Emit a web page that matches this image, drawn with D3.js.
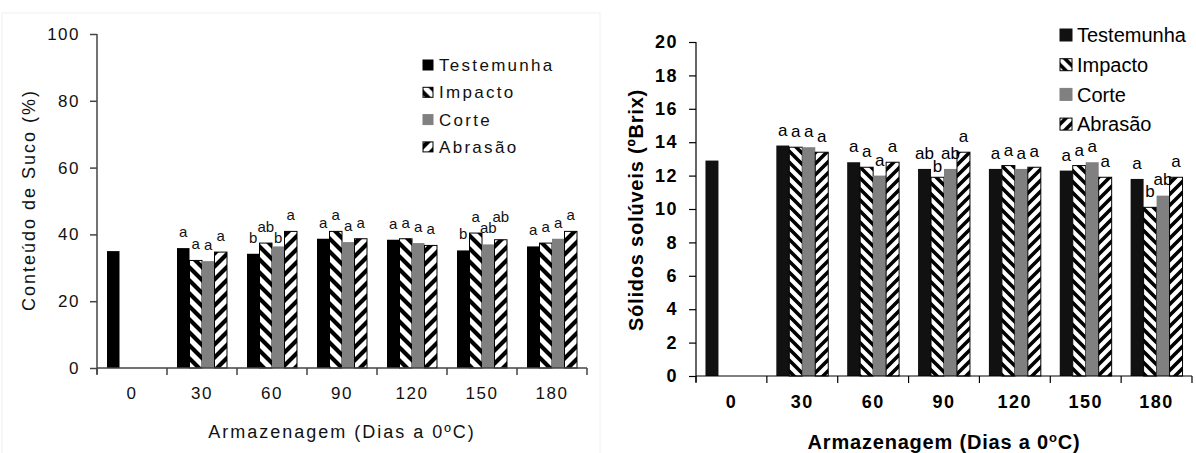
<!DOCTYPE html>
<html>
<head>
<meta charset="utf-8">
<script src="https://cdn.jsdelivr.net/npm/d3@7"></script>
<style>
  body { margin: 0; background: #fff; }
  svg { display: block; }
</style>
</head>
<body>
<script>
//Data
const days = ['0', '30', '60', '90', '120', '150', '180'];
const treatments = ['Testemunha', 'Impacto', 'Corte', 'Abrasão'];

// Conteúdo de suco (%)
const sucoTestemunha = [35.0, 35.9, 34.2, 38.7, 38.4, 35.2, 36.4];
const sucoImpacto    = [null, 32.2, 37.4, 40.9, 38.7, 40.4, 37.4];
const sucoCorte      = [null, 32.0, 36.4, 37.7, 37.4, 37.0, 38.7];
const sucoAbrasao    = [null, 34.7, 40.9, 38.7, 36.7, 38.4, 40.9];
const sucoLetrasT = ['', 'a', 'b', 'a', 'a', 'b', 'a'];
const sucoLetrasI = ['', 'a', 'ab', 'a', 'a', 'a', 'a'];
const sucoLetrasC = ['', 'a', 'b', 'a', 'a', 'ab', 'a'];
const sucoLetrasA = ['', 'a', 'a', 'a', 'a', 'ab', 'a'];
const sucoTicks = [0, 20, 40, 60, 80, 100];

// Sólidos solúveis (ºBrix)
const brixTestemunha = [12.9, 13.8, 12.8, 12.4, 12.4, 12.3, 11.8];
const brixImpacto    = [null, 13.7, 12.5, 11.9, 12.6, 12.6, 10.1];
const brixCorte      = [null, 13.7, 12.0, 12.4, 12.4, 12.8, 10.8];
const brixAbrasao    = [null, 13.4, 12.8, 13.4, 12.5, 11.9, 11.9];
const brixLetrasT = ['', 'a', 'a', 'ab', 'a', 'a', 'a'];
const brixLetrasI = ['', 'a', 'a', 'b', 'a', 'a', 'b'];
const brixLetrasC = ['', 'a', 'a', 'ab', 'a', 'a', 'ab'];
const brixLetrasA = ['', 'a', 'a', 'a', 'a', 'a', 'a'];
const brixTicks = [0, 2, 4, 6, 8, 10, 12, 14, 16, 18, 20];

const svg = d3.select('body').append('svg')
    .attr('width', 1196).attr('height', 453);
const defs = svg.append('defs');

// listras diagonais: dir 1 = '/', dir -1 = '\'
function addStripes(id, s, sw, dir) {
    const p = defs.append('pattern').attr('id', id)
        .attr('patternUnits', 'userSpaceOnUse')
        .attr('width', s).attr('height', s);
    p.append('rect').attr('width', s).attr('height', s).attr('fill', '#fff');
    let d = '';
    if (dir > 0) {
        [0, s, 2 * s].forEach(c => { d += `M${c + s},${-s}L${c - 2 * s},${2 * s}`; });
    } else {
        [-s, 0, s].forEach(c => { d += `M${-s},${-s + c}L${2 * s},${2 * s + c}`; });
    }
    p.append('path').attr('d', d).attr('stroke', '#000').attr('stroke-width', sw);
}
addStripes('impL', 13, 4.2, -1);
addStripes('abrL', 13, 4.2, 1);
addStripes('impR', 11, 3.6, -1);
addStripes('abrR', 11, 3.6, 1);

// moldura clara do gráfico esquerdo
svg.append('rect').attr('x', 2).attr('y', 13).attr('width', 598).attr('height', 445)
    .attr('fill', 'none').attr('stroke', '#f0f0f0');

function drawPanel(cfg) {
    const g = svg.append('g');
    const x = d3.scaleBand().domain(days).range([cfg.left, cfg.right]);
    const xSub = d3.scaleBand().domain(treatments)
        .range([0, x.bandwidth()]).paddingOuter(cfg.outerPad);
    const y = d3.scaleLinear().domain([0, cfg.yMax]).range([cfg.bottom, cfg.top]);

    const text = sel => sel.attr('font-family', cfg.font)
        .attr('font-weight', cfg.weight).attr('fill', cfg.textColor);

    // Bars
    const rows = [];
    treatments.forEach((t, i) => {
        cfg.values[i].forEach((v, j) => {
            if (v != null) rows.push({ t, i, day: days[j], v, letter: cfg.letters[i][j] });
        });
    });
    g.append('g').selectAll('rect').data(rows).join('rect')
        .attr('x', d => x(d.day) + xSub(d.t))
        .attr('y', d => y(d.v))
        .attr('width', xSub.bandwidth())
        .attr('height', d => y(0) - y(d.v))
        .attr('fill', d => cfg.fills[d.i])
        .attr('stroke', d => cfg.strokes[d.i])
        .attr('stroke-width', 1);

    // letras de significância: acima da barra, desviando da letra vizinha
    const h = cfg.letterSize * 0.75;
    const labels = [];
    days.forEach(day => {
        let prev = null;
        rows.filter(d => d.day === day && d.letter).forEach(d => {
            d.lx = x(d.day) + xSub(d.t) + xSub.bandwidth() / 2;
            d.ly = y(d.v) - cfg.letterOffset;
            d.w = d.letter.length * cfg.letterSize * 0.56;
            if (prev && Math.abs(d.lx - prev.lx) < (d.w + prev.w) / 2
                && Math.abs(d.ly - prev.ly) < h) {
                d.ly = d.v <= prev.v ? Math.min(y(d.v) - 2, prev.ly + h) : prev.ly - h;
            }
            labels.push(d);
            prev = d;
        });
    });
    g.append('g').selectAll('text').data(labels).join('text')
        .attr('x', d => d.lx)
        .attr('y', d => d.ly)
        .attr('text-anchor', 'middle')
        .attr('font-size', cfg.letterSize)
        .call(text).attr('font-weight', 'normal')
        .text(d => d.letter);

    // Y axis
    const yAxis = g.append('g')
        .attr('transform', `translate(${cfg.left},0)`)
        .call(d3.axisLeft(y).tickValues(cfg.ticks).tickSize(7).tickSizeOuter(0).tickPadding(cfg.yPad));
    yAxis.select('.domain').remove();
    yAxis.selectAll('line').attr('stroke', cfg.axisColor).attr('stroke-width', cfg.axisWidth);
    yAxis.selectAll('text').call(text)
        .attr('font-size', cfg.tickSize).attr('letter-spacing', cfg.ls);
    g.append('line')
        .attr('x1', cfg.left).attr('x2', cfg.left)
        .attr('y1', cfg.top).attr('y2', cfg.bottom + 6)
        .attr('stroke', cfg.axisColor).attr('stroke-width', cfg.axisWidth);

    // X axis: linha e marcas nos limites das categorias
    g.append('line')
        .attr('x1', cfg.left).attr('x2', cfg.right)
        .attr('y1', cfg.bottom).attr('y2', cfg.bottom)
        .attr('stroke', cfg.axisColor).attr('stroke-width', cfg.axisWidth);
    const bounds = days.map(d => x(d)).concat([x.range()[1]]);
    g.append('g').selectAll('line').data(bounds).join('line')
        .attr('x1', d => d).attr('x2', d => d)
        .attr('y1', cfg.bottom).attr('y2', cfg.bottom + 7)
        .attr('stroke', cfg.axisColor).attr('stroke-width', cfg.axisWidth);
    const xAxis = g.append('g')
        .attr('transform', `translate(0,${cfg.bottom})`)
        .call(d3.axisBottom(x).tickSize(0).tickPadding(19));
    xAxis.select('.domain').remove();
    xAxis.selectAll('text').call(text)
        .attr('font-size', cfg.tickSize).attr('letter-spacing', cfg.ls);

    // Títulos
    const xt = g.append('text')
        .attr('x', (cfg.left + cfg.right) / 2).attr('y', cfg.xTitleY)
        .attr('text-anchor', 'middle').attr('font-size', cfg.titleSize)
        .attr('letter-spacing', cfg.titleLs)
        .call(text);
    cfg.xTitle(xt);
    g.append('text')
        .attr('transform', `translate(${cfg.yTitleX},${cfg.yTitleY}) rotate(-90)`)
        .attr('text-anchor', 'middle').attr('font-size', cfg.titleSize)
        .attr('letter-spacing', cfg.titleLs)
        .call(text)
        .text(cfg.yTitle);

    // Legend
    const lg = g.append('g')
        .attr('transform', `translate(${cfg.legend.x},${cfg.legend.y})`);
    const item = lg.selectAll('g').data(treatments).join('g')
        .attr('transform', (d, i) => `translate(0,${i * cfg.legend.step})`);
    item.append('rect')
        .attr('x', 0).attr('y', -cfg.legend.box / 2)
        .attr('width', cfg.legend.box).attr('height', cfg.legend.box)
        .attr('fill', (d, i) => cfg.fills[i])
        .attr('stroke', (d, i) => cfg.strokes[i] === 'none' ? cfg.fills[i] : '#000');
    item.append('text')
        .attr('x', cfg.legend.gap).attr('dy', '0.36em')
        .attr('font-size', cfg.legend.size).attr('letter-spacing', cfg.legend.ls)
        .call(text).attr('font-weight', 'normal')
        .text(d => d);
}

drawPanel({
    left: 97, right: 587, top: 34, bottom: 368, yMax: 100, ticks: sucoTicks,
    values: [sucoTestemunha, sucoImpacto, sucoCorte, sucoAbrasao],
    letters: [sucoLetrasT, sucoLetrasI, sucoLetrasC, sucoLetrasA],
    fills: ['#000', 'url(#impL)', '#808080', 'url(#abrL)'],
    strokes: ['none', '#000', 'none', '#000'],
    outerPad: 0.8,
    font: '"Liberation Sans", Arial, sans-serif', weight: 'normal',
    textColor: '#111', axisColor: '#444', axisWidth: 1.5,
    tickSize: 17, ls: 1.5, yPad: 10,
    letterSize: 15, letterOffset: 11,
    titleSize: 18, titleLs: 2,
    xTitle: t => t.text('Armazenagem (Dias a 0ºC)'), xTitleY: 438,
    yTitle: 'Conteúdo de Suco (%)', yTitleX: 35, yTitleY: 200,
    legend: { x: 423, y: 65, step: 27.3, box: 10, gap: 16, size: 17, ls: 2.3 }
});

drawPanel({
    left: 696, right: 1192, top: 42, bottom: 376, yMax: 20, ticks: brixTicks,
    values: [brixTestemunha, brixImpacto, brixCorte, brixAbrasao],
    letters: [brixLetrasT, brixLetrasI, brixLetrasC, brixLetrasA],
    fills: ['#111', 'url(#impR)', '#808080', 'url(#abrR)'],
    strokes: ['none', '#000', 'none', '#000'],
    outerPad: 0.73,
    font: '"Liberation Sans", Arial, sans-serif', weight: 'bold',
    textColor: '#000', axisColor: '#000', axisWidth: 1.2,
    tickSize: 18, ls: 1.5, yPad: 11,
    letterSize: 17, letterOffset: 10,
    titleSize: 20, titleLs: 0.8,
    xTitle: t => {
        t.append('tspan').text('Armazenagem (Dias a 0');
        t.append('tspan').attr('font-size', '0.65em').attr('dy', '-0.55em').text('o');
        t.append('tspan').attr('dy', '0.36em').text('C)');
    },
    xTitleY: 449,
    yTitle: 'Sólidos solúveis (ºBrix)', yTitleX: 643, yTitleY: 210,
    legend: { x: 1060, y: 35, step: 29.7, box: 12, gap: 17, size: 20, ls: 0 }
});
</script>
</body>
</html>
